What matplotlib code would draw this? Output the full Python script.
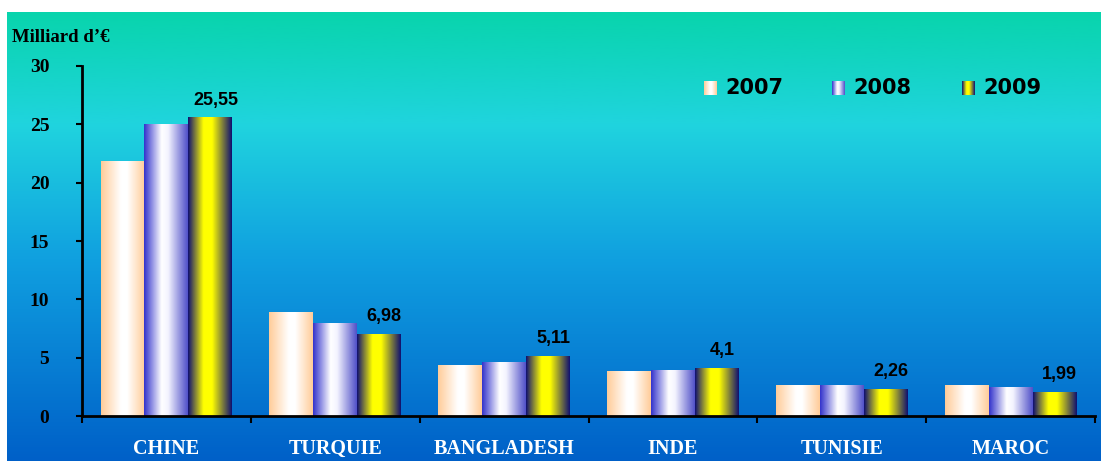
import numpy as np
import matplotlib
matplotlib.use("Agg")
import matplotlib.pyplot as plt
from matplotlib.colors import LinearSegmentedColormap

# data
pays = ["CHINE", "TURQUIE", "BANGLADESH", "INDE", "TUNISIE", "MAROC"]
annees = ["2007", "2008", "2009"]
v2007 = [21.8, 8.9, 4.3, 3.8, 2.6, 2.6]
v2008 = [25.0, 7.9, 4.6, 3.9, 2.6, 2.4]
v2009 = [25.55, 6.98, 5.11, 4.1, 2.26, 1.99]
etiquettes_2009 = ["25,55", "6,98", "5,11", "4,1", "2,26", "1,99"]

W, H = 1101, 461
fig = plt.figure(figsize=(W / 100, H / 100), dpi=100)

# background gradient panel (white margin top / left)
bg = fig.add_axes([7 / W, 0, 1 - 7 / W, 1 - 12 / H])
bg.set_axis_off()
bg_cmap = LinearSegmentedColormap.from_list("bg", [
    (0.0, (8 / 255, 212 / 255, 172 / 255)),
    (0.25, (32 / 255, 212 / 255, 222 / 255)),
    (0.55, (16 / 255, 160 / 255, 224 / 255)),
    (1.0, (0 / 255, 96 / 255, 200 / 255)),
])
bg.imshow(np.linspace(0, 1, 256).reshape(-1, 1), aspect="auto", cmap=bg_cmap,
          extent=[0, 1, 0, 1], origin="upper")
bg.set_xlim(0, 1)
bg.set_ylim(0, 1)

# plot area: y axis at x=82, y=0 at 416, y=30 at 66, right end 1095
x0, x1 = 82, 1095
ybot, ytop = 416, 66
ax = fig.add_axes([x0 / W, (H - ybot) / H, (x1 - x0) / W, (ybot - ytop) / H])
ax.patch.set_alpha(0)

grads = {
    "2007": LinearSegmentedColormap.from_list("g7", [
        (0.0, "#ffcc99"), (0.45, "#ffffff"), (0.6, "#ffffff"), (1.0, "#ffcc99")]),
    "2008": LinearSegmentedColormap.from_list("g8", [
        (0.0, "#3333cc"), (0.4, "#ffffff"), (0.55, "#f4f4ff"), (1.0, "#5050c8")]),
    "2009": LinearSegmentedColormap.from_list("g9", [
        (0.0, "#101070"), (0.35, "#ffff00"), (0.55, "#ffff00"), (1.0, "#101070")]),
}
grad_img = np.linspace(0, 1, 128).reshape(1, -1)

largeur = 0.26
series = [v2007, v2008, v2009]
offsets = [-largeur, 0, largeur]
x = np.arange(len(pays)) + 0.5
for annee, vals, off in zip(annees, series, offsets):
    bars = ax.bar(x + off, vals, width=largeur, color="none", edgecolor="none")
    for b in bars:
        bx, bw, bh = b.get_x(), b.get_width(), b.get_height()
        ax.imshow(grad_img, cmap=grads[annee], aspect="auto",
                  extent=[bx, bx + bw, 0, bh], zorder=2, interpolation="bilinear")
ax.set_xlim(0, len(pays))
ax.set_ylim(0, 30)

for xi, v, lab in zip(x, v2009, etiquettes_2009):
    ax.text(xi + largeur + 0.03, v + 0.8, lab, ha="center", va="bottom",
            fontsize=13, fontweight="bold", family="Liberation Sans", color="black")

# axes styling
for s in ["top", "right"]:
    ax.spines[s].set_visible(False)
ax.spines["left"].set_linewidth(2)
ax.spines["bottom"].set_linewidth(2)
ax.set_yticks(range(0, 31, 5))
ax.set_yticklabels([str(t) for t in range(0, 31, 5)], family="Liberation Serif",
                   fontweight="bold", fontsize=14)
ax.tick_params(axis="y", length=4, width=1.5, pad=19.5)
ax.set_xticks(range(0, len(pays) + 1))
ax.set_xticklabels([])
ax.tick_params(axis="x", length=5, width=1.5, direction="out")
for xi, p in zip(x, pays):
    ax.text(xi, -2.85, p, ha="center", va="center", color="white", family="Liberation Serif",
            fontweight="bold", fontsize=14.5)

fig.text(12 / W, 1 - 38 / H, "Milliard d\u2019\u20ac", family="Liberation Serif",
         fontweight="bold", fontsize=13.5, va="center", ha="left")

# legend drawn manually with gradient swatches
leg_x = [704, 832, 962]
for lx, annee in zip(leg_x, annees):
    sw = fig.add_axes([lx / W, 1 - 95 / H, 13 / W, 14 / H])
    sw.imshow(grad_img, cmap=grads[annee], aspect="auto", interpolation="bilinear")
    sw.set_axis_off()
    fig.text((lx + 21) / W, 1 - 88 / H, annee, fontweight="bold", fontsize=15,
             family="DejaVu Sans", va="center", ha="left")

fig.savefig("out.png", dpi=100)
